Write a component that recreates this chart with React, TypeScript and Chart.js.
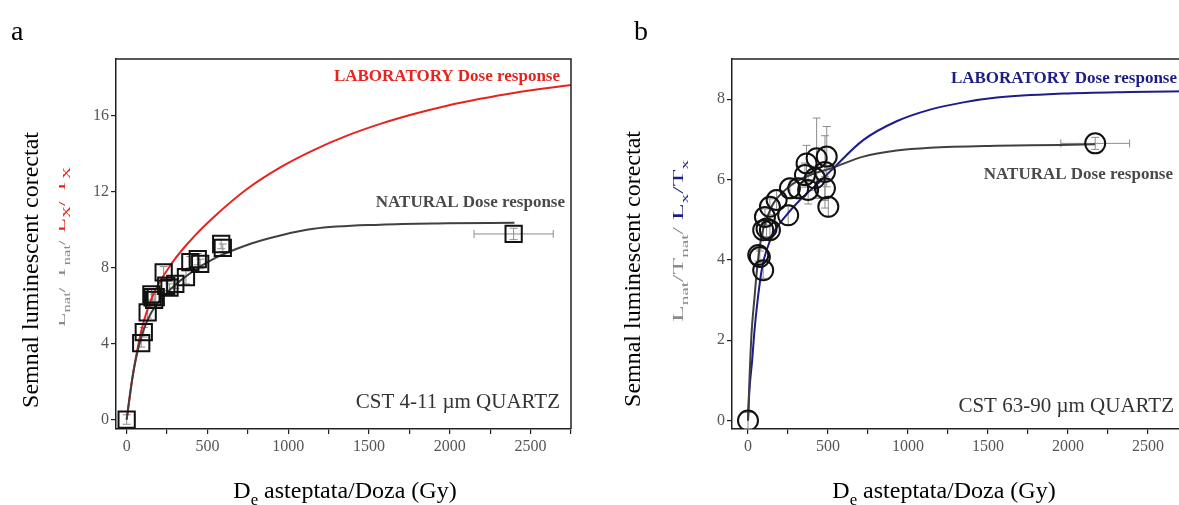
import React, { useEffect, useRef } from 'react';
import { Chart, registerables } from 'chart.js';

Chart.register(...registerables);

// ---------- Panel a : CST 4-11 µm quartz ----------
const aNatDose = [0, 90, 106, 130, 153, 160, 170, 180, 229, 245, 265, 301, 367, 394, 440, 455, 585, 595, 2395];
const aNatSig = [0, 4.02, 4.6, 5.65, 6.6, 6.45, 6.3, 6.45, 7.76, 7.05, 6.95, 7.15, 7.5, 8.29, 8.45, 8.2, 9.25, 9.05, 9.78];
const aErrSig = [0.25, 0.2, 0.25, 0.3, 0.3, 0.25, 0.3, 0.25, 0.3, 0.25, 0.2, 0.25, 0.35, 0.3, 0.3, 0.25, 0.25, 0.2, 0.3];
const aErrDose = [0, 0, 0, 0, 0, 0, 0, 0, 0, 0, 0, 0, 0, 0, 0, 0, 0, 0, 245];
const aNatCurveDose = [0, 25, 50, 100, 150, 229, 332, 518, 767, 951, 1157, 1570, 1983, 2400];
const aNatCurveSig = [0, 1.6, 2.9, 4.6, 5.6, 6.5, 7.32, 8.38, 9.26, 9.7, 10.05, 10.27, 10.34, 10.37];
const aLabCurveDose = [0, 19, 33, 50, 91, 157, 277, 394, 538, 745, 951, 1157, 1364, 1570, 1777, 1983, 2189, 2395, 2750];
const aLabCurveSig = [0, 1.17, 2.05, 2.93, 4.69, 6.44, 8.2, 9.43, 10.66, 12.15, 13.29, 14.2, 14.96, 15.58, 16.1, 16.54, 16.9, 17.21, 17.63];

// ---------- Panel b : CST 63-90 µm quartz ----------
const bNatDose = [0, 64, 74, 95, 95, 116, 137, 106, 137, 179, 251, 262, 314, 376, 366, 356, 429, 418, 492, 481, 481, 502, 2170];
const bNatSig = [0, 4.12, 4.07, 3.74, 4.74, 4.78, 4.74, 5.07, 5.32, 5.49, 5.11, 5.78, 5.78, 5.74, 6.4, 6.11, 6.53, 6.03, 6.57, 6.19, 5.78, 5.32, 6.9];
const bErrSig = [0.2, 0.15, 0.15, 0.2, 0.2, 0.2, 0.2, 0.2, 0.2, 0.25, 0.25, 0.25, 0.25, 0.35, 0.45, 0.3, 1.0, 0.3, 0.75, 0.9, 0.3, 0.25, 0.15];
const bErrDose = [0, 0, 0, 0, 0, 0, 0, 0, 0, 0, 0, 0, 0, 0, 0, 0, 0, 0, 0, 0, 0, 0, 215];
const bNatCurveDose = [0, 10, 22, 39, 58, 85, 120, 158, 250, 350, 533, 720, 929, 1138, 1555, 1951, 2170];
const bNatCurveSig = [0, 1.1, 2.17, 2.99, 3.83, 4.6, 5.05, 5.4, 5.8, 6.05, 6.3, 6.57, 6.72, 6.79, 6.84, 6.86, 6.88];
const bLabCurveDose = [0, 8, 26, 39, 60, 89, 116, 158, 231, 325, 450, 533, 720, 929, 1138, 1346, 1555, 1971, 2389, 2750];
const bLabCurveSig = [0, 0.7, 1.5, 2.17, 2.99, 3.83, 4.24, 4.66, 5.07, 5.49, 5.95, 6.28, 6.98, 7.45, 7.74, 7.92, 8.04, 8.14, 8.18, 8.2];

// ---------- texts ----------
const yTitleMain = 'Semnal luminescent corectat';
const xTitleMain = 'D';
const xTitleSub = 'e';
const xTitleRest = ' asteptata/Doza (Gy)';
const labText = 'LABORATORY Dose response';
const natText = 'NATURAL Dose response';
const aSample = 'CST 4-11 µm QUARTZ';
const bSample = 'CST 63-90 µm QUARTZ';

const SERIF = '"Liberation Serif", "Times New Roman", serif';
const RED = '#e5241f';
const NAVY = '#1d1d8a';
const GRAY_TXT = '#8a8a8a';

type Seg = { t: string; sub?: boolean; color: string };

function segFont(size: number, sub?: boolean, weight = 'normal') {
  return `${weight} ${sub ? size * 0.7 : size}px ${SERIF}`;
}

function drawRich(
  ctx: CanvasRenderingContext2D,
  segs: Seg[],
  x: number,
  y: number,
  size: number,
  rotate: boolean,
  align: 'center' | 'right' = 'center',
  weight = 'normal',
  targetLen = 0,
  squash = 1,
) {
  ctx.save();
  ctx.translate(x, y);
  if (rotate) ctx.rotate(-Math.PI / 2);
  let w = 0;
  segs.forEach((s) => {
    ctx.font = segFont(size, s.sub, weight);
    w += ctx.measureText(s.t).width;
  });
  const sx = targetLen > 0 ? targetLen / w : 1;
  ctx.scale(sx, squash);
  let cx = align === 'center' ? -w / 2 : -w;
  ctx.textBaseline = 'alphabetic';
  ctx.textAlign = 'left';
  segs.forEach((s) => {
    ctx.font = segFont(size, s.sub, weight);
    ctx.fillStyle = s.color;
    ctx.fillText(s.t, cx, s.sub ? size * 0.3 : 0);
    cx += ctx.measureText(s.t).width;
  });
  ctx.restore();
}

const errorBars = {
  id: 'errorBars',
  beforeDatasetsDraw(chart: any) {
    const ctx = chart.ctx as CanvasRenderingContext2D;
    const xs = chart.scales.x;
    const ys = chart.scales.y;
    chart.data.datasets.forEach((ds: any) => {
      if (!ds.errY) return;
      ctx.save();
      ctx.strokeStyle = '#8c8c8c';
      ctx.lineWidth = 1;
      ds.data.forEach((p: any, i: number) => {
        const px = xs.getPixelForValue(p.x);
        const py = ys.getPixelForValue(p.y);
        const ey = ds.errY[i];
        if (ey) {
          const y1 = ys.getPixelForValue(p.y + ey);
          const y2 = ys.getPixelForValue(p.y - ey);
          ctx.beginPath();
          ctx.moveTo(px, y1); ctx.lineTo(px, y2);
          ctx.moveTo(px - 4, y1); ctx.lineTo(px + 4, y1);
          ctx.moveTo(px - 4, y2); ctx.lineTo(px + 4, y2);
          ctx.stroke();
        }
        const ex = ds.errX[i];
        if (ex) {
          const x1 = xs.getPixelForValue(p.x - ex);
          const x2 = xs.getPixelForValue(p.x + ex);
          ctx.beginPath();
          ctx.moveTo(x1, py); ctx.lineTo(x2, py);
          ctx.moveTo(x1, py - 4); ctx.lineTo(x1, py + 4);
          ctx.moveTo(x2, py - 4); ctx.lineTo(x2, py + 4);
          ctx.stroke();
        }
      });
      ctx.restore();
    });
  },
};

const boxPlugin = {
  id: 'boxTopRight',
  afterDraw(chart: any) {
    const { ctx, chartArea } = chart;
    ctx.save();
    ctx.strokeStyle = '#222';
    ctx.lineWidth = 1.5;
    ctx.beginPath();
    ctx.moveTo(chartArea.left, chartArea.top);
    ctx.lineTo(chartArea.right, chartArea.top);
    ctx.lineTo(chartArea.right, chartArea.bottom);
    ctx.stroke();
    ctx.restore();
  },
};

function pts(xs: number[], ys: number[]) {
  return xs.map((x, i) => ({ x, y: ys[i] }));
}

type PanelSpec = {
  width: number;
  xMin: number;
  xMax: number;
  yMin: number;
  yMax: number;
  yStep: number;
  padRight: number;
  yAxisWidth: number;
  pointStyle: string;
  pointRadius: number;
  dots: { x: number; y: number }[];
  errY: number[];
  errX: number[];
  natCurve: { x: number; y: number }[];
  labCurve: { x: number; y: number }[];
  labColor: string;
  draw: (ctx: CanvasRenderingContext2D) => void;
};

function buildConfig(p: PanelSpec): any {
  const tickFont = { family: SERIF, size: 16 };
  return {
    type: 'scatter',
    data: {
      datasets: [
        {
          data: p.dots,
          errY: p.errY,
          errX: p.errX,
          showLine: false,
          pointStyle: p.pointStyle,
          pointRadius: p.pointRadius,
          pointBorderWidth: 2,
          borderColor: '#111',
          backgroundColor: 'rgba(0,0,0,0)',
        },
        {
          data: p.natCurve,
          showLine: true,
          pointRadius: 0,
          borderColor: '#404040',
          borderWidth: 2,
          cubicInterpolationMode: 'monotone',
        },
        {
          data: p.labCurve,
          showLine: true,
          pointRadius: 0,
          borderColor: p.labColor,
          borderWidth: 2,
          cubicInterpolationMode: 'monotone',
        },
      ],
    },
    options: {
      animation: false,
      responsive: false,
      devicePixelRatio: 1,
      layout: { padding: { top: 59, right: p.padRight, bottom: 0, left: 0 } },
      plugins: { legend: { display: false }, tooltip: { enabled: false } },
      scales: {
        x: {
          type: 'linear',
          min: p.xMin,
          max: p.xMax,
          afterFit: (s: any) => { s.height = 76; },
          ticks: {
            stepSize: 250,
            autoSkip: false,
            includeBounds: false,
            maxRotation: 0,
            color: '#555',
            font: tickFont,
            padding: 3,
            callback: (v: any) => (Number(v) % 500 === 0 ? String(v) : ''),
          },
          grid: { drawOnChartArea: false, drawTicks: true, tickLength: 5, color: '#222', lineWidth: 1.2 },
          border: { display: true, color: '#222', width: 1.5 },
        },
        y: {
          type: 'linear',
          min: p.yMin,
          max: p.yMax,
          afterFit: (s: any) => { s.width = p.yAxisWidth; },
          ticks: {
            stepSize: p.yStep,
            includeBounds: false,
            color: '#555',
            font: tickFont,
            padding: 2,
          },
          grid: { drawOnChartArea: false, drawTicks: true, tickLength: 5, color: '#222', lineWidth: 1.2 },
          border: { display: true, color: '#222', width: 1.5 },
        },
      },
    },
    plugins: [
      errorBars,
      boxPlugin,
      { id: 'texts', afterDraw: (chart: any) => p.draw(chart.ctx) },
    ],
  };
}

function drawPanelA(ctx: CanvasRenderingContext2D) {
  ctx.save();
  ctx.font = `28px ${SERIF}`;
  ctx.fillStyle = '#000';
  ctx.fillText('a', 11, 40);
  ctx.restore();
  drawRich(ctx, [{ t: yTitleMain, color: '#000' }], 37.5, 270, 24, true);
  ctx.save();
  ctx.beginPath();
  ctx.rect(59, 0, 40, 505);
  ctx.clip();
  drawRich(ctx, [
    { t: 'L', color: GRAY_TXT }, { t: 'nat', sub: true, color: GRAY_TXT },
    { t: '/ T', color: GRAY_TXT }, { t: 'nat', sub: true, color: GRAY_TXT },
    { t: '/ ', color: GRAY_TXT },
    { t: 'L', color: RED }, { t: 'X', sub: true, color: RED },
    { t: '/ T', color: RED }, { t: 'X', sub: true, color: RED },
  ], 65, 247, 19, true, 'center', 'normal', 160, 0.8);
  ctx.restore();
  drawRich(ctx, [
    { t: xTitleMain, color: '#000' }, { t: xTitleSub, sub: true, color: '#000' }, { t: xTitleRest, color: '#000' },
  ], 345, 498, 24, false);
  drawRich(ctx, [{ t: labText, color: RED }], 560, 80.5, 17, false, 'right', 'bold');
  drawRich(ctx, [{ t: natText, color: '#4a4a4a' }], 565, 206.5, 17, false, 'right', 'bold');
  drawRich(ctx, [{ t: aSample, color: '#333' }], 560, 407.5, 21, false, 'right');
}

function drawPanelB(ctx: CanvasRenderingContext2D) {
  ctx.save();
  ctx.font = `28px ${SERIF}`;
  ctx.fillStyle = '#000';
  ctx.fillText('b', 34, 40);
  ctx.restore();
  drawRich(ctx, [{ t: yTitleMain, color: '#000' }], 40, 269, 24, true);
  drawRich(ctx, [
    { t: 'L', color: GRAY_TXT }, { t: 'nat', sub: true, color: GRAY_TXT },
    { t: '/T', color: GRAY_TXT }, { t: 'nat', sub: true, color: GRAY_TXT },
    { t: '/ ', color: GRAY_TXT },
    { t: 'L', color: NAVY }, { t: 'x', sub: true, color: NAVY },
    { t: '/T', color: NAVY }, { t: 'x', sub: true, color: NAVY },
  ], 83, 241, 19, true, 'center', 'normal', 162, 0.8);
  drawRich(ctx, [
    { t: xTitleMain, color: '#000' }, { t: xTitleSub, sub: true, color: '#000' }, { t: xTitleRest, color: '#000' },
  ], 344, 498, 24, false);
  drawRich(ctx, [{ t: labText, color: NAVY }], 577, 82.5, 17, false, 'right', 'bold');
  drawRich(ctx, [{ t: natText, color: '#4a4a4a' }], 573, 179, 17, false, 'right', 'bold');
  drawRich(ctx, [{ t: bSample, color: '#333' }], 574, 412, 21, false, 'right');
}

const panelA: PanelSpec = {
  width: 600,
  xMin: -66,
  xMax: 2750,
  yMin: -0.5,
  yMax: 19,
  yStep: 4,
  padRight: 29,
  yAxisWidth: 116,
  pointStyle: 'rect',
  pointRadius: 11.5,
  dots: pts(aNatDose, aNatSig),
  errY: aErrSig,
  errX: aErrDose,
  natCurve: pts(aNatCurveDose, aNatCurveSig),
  labCurve: pts(aLabCurveDose, aLabCurveSig),
  labColor: RED,
  draw: drawPanelA,
};

const panelB: PanelSpec = {
  width: 620,
  xMin: -100,
  xMax: 2750,
  yMin: -0.21,
  yMax: 9,
  yStep: 2,
  padRight: 32,
  yAxisWidth: 132,
  pointStyle: 'circle',
  pointRadius: 10,
  dots: pts(bNatDose, bNatSig),
  errY: bErrSig,
  errX: bErrDose,
  natCurve: pts(bNatCurveDose, bNatCurveSig),
  labCurve: pts(bLabCurveDose, bLabCurveSig),
  labColor: NAVY,
  draw: drawPanelB,
};

function Panel({ spec, left }: { spec: PanelSpec; left: number }) {
  const ref = useRef<HTMLCanvasElement>(null);
  useEffect(() => {
    const chart = new Chart(ref.current as HTMLCanvasElement, buildConfig(spec));
    return () => chart.destroy();
  }, [spec]);
  return (
    <canvas
      ref={ref}
      width={spec.width}
      height={505}
      style={{ position: 'absolute', left, top: 0, width: spec.width, height: 505 }}
    />
  );
}

export default function App() {
  return (
    <div
      style={{
        position: 'fixed',
        left: 0,
        top: 0,
        width: 1179,
        height: 505,
        overflow: 'hidden',
        background: '#fff',
      }}
    >
      <Panel spec={panelA} left={0} />
      <Panel spec={panelB} left={600} />
    </div>
  );
}
